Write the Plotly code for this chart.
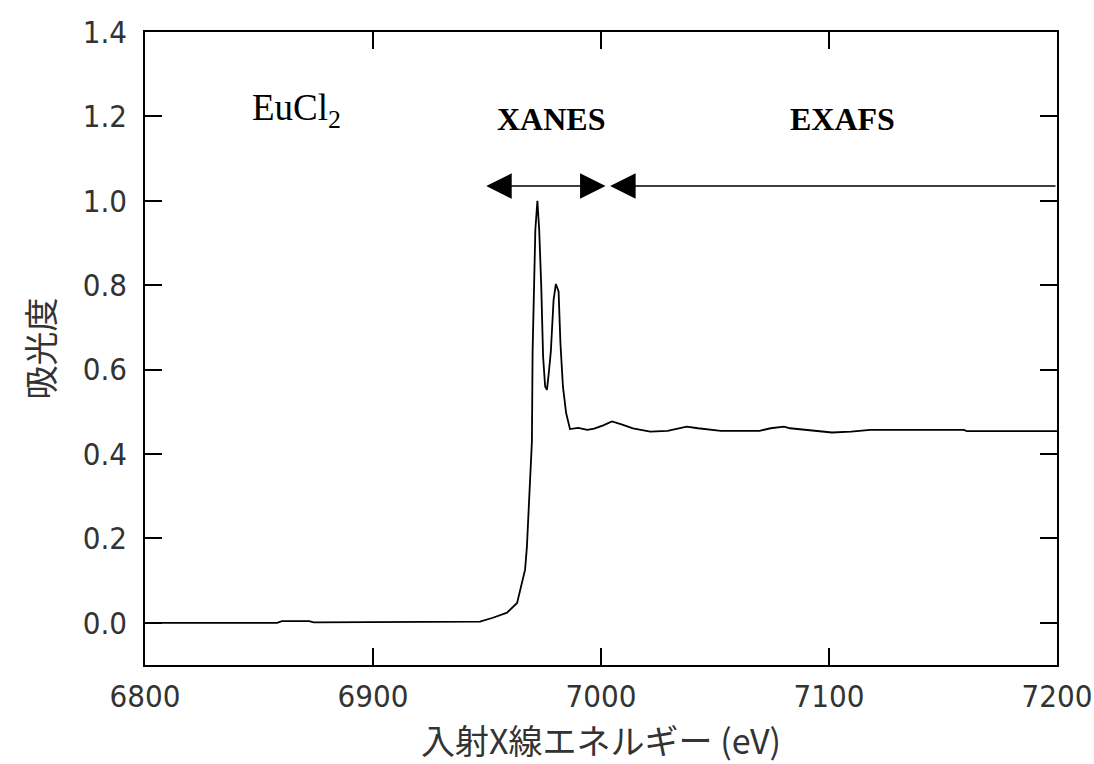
import plotly.graph_objects as go

# Data
energy_ev = [6800, 6830, 6858, 6860, 6872, 6874, 6900, 6930, 6946.9, 6952.6, 6958.8,
             6963.2, 6965.4, 6966.7, 6967.5, 6968.0, 6968.9, 6969.7, 6970.0, 6971.2,
             6972.1, 6972.9, 6973.8, 6974.6, 6975.5, 6976.3, 6977.1, 6978.0, 6979.2,
             6980.2, 6981.4, 6982.2, 6983.3, 6984.7, 6986.4, 6990, 6994, 6997, 7001,
             7004.8, 7009, 7014, 7021.6, 7029.2, 7037.6, 7042.5, 7052.6, 7069.5, 7074.4,
             7080.3, 7082.9, 7093, 7101.3, 7109.7, 7118.1, 7159.2, 7160.5, 7200]
absorbance = [0.0, 0.0, 0.0, 0.004, 0.004, 0.001, 0.002, 0.002, 0.003, 0.012, 0.024,
              0.047, 0.095, 0.126, 0.18, 0.237, 0.33, 0.43, 0.643, 0.931,
              1.0, 0.931, 0.797, 0.631, 0.56, 0.552, 0.592, 0.643, 0.765,
              0.803, 0.785, 0.663, 0.56, 0.497, 0.459, 0.462, 0.457, 0.46, 0.468,
              0.477, 0.47, 0.461, 0.453, 0.455, 0.465, 0.461, 0.455, 0.455, 0.461,
              0.465, 0.461, 0.455, 0.451, 0.453, 0.457, 0.457, 0.454, 0.454]

y_ticks = [0.0, 0.2, 0.4, 0.6, 0.8, 1.0, 1.2, 1.4]
x_ticks = [6800, 6900, 7000, 7100, 7200]

xanes_range = [6949, 7002]
exafs_range = [7004, 7200]
arrow_level = 1.035

sample_label = "EuCl<sub>2</sub>"
region_labels = ["XANES", "EXAFS"]
region_label_x = [6978, 7106]
label_y = 1.195

tick_font = dict(family="Liberation Sans Narrow, DejaVu Sans Condensed, Roboto, sans-serif", size=31, color="#333")
jp_font = dict(family="Noto Sans CJK JP, sans-serif", size=34, color="#333")
serif = "Liberation Serif, Times New Roman, serif"

fig = go.Figure()
fig.add_trace(go.Scatter(x=energy_ev, y=absorbance, mode="lines",
                         line=dict(color="black", width=1.8), showlegend=False))

axis_common = dict(showline=True, linecolor="black", linewidth=1.6, mirror="ticks",
                   ticks="inside", ticklen=17, tickwidth=1.6, tickcolor="black",
                   showgrid=False, zeroline=False, tickfont=tick_font,
                   ticklabeloverflow="allow")

fig.update_xaxes(range=[6800, 7200.0001], tickvals=x_ticks, ticklabelstandoff=3,
                 title=dict(text="入射X線エネルギー (eV)", font=jp_font, standoff=20),
                 **axis_common)
fig.update_yaxes(range=[-0.1, 1.4], tickvals=y_ticks, tickformat=".1f",
                 ticklabelstandoff=10,
                 title=dict(text="吸光度", font=jp_font, standoff=18),
                 **axis_common)

# Arrows
fig.add_annotation(x=xanes_range[1], y=arrow_level, ax=xanes_range[0], ay=arrow_level,
                   xref="x", yref="y", axref="x", ayref="y", text="", showarrow=True,
                   arrowhead=2, startarrowhead=2, arrowside="end+start",
                   arrowsize=3.4, startarrowsize=3.4, arrowwidth=1.5, arrowcolor="black")
fig.add_annotation(x=exafs_range[0], y=arrow_level, ax=exafs_range[1], ay=arrow_level,
                   xref="x", yref="y", axref="x", ayref="y", text="", showarrow=True,
                   arrowhead=2, arrowside="end",
                   arrowsize=3.4, arrowwidth=1.5, arrowcolor="black")

for lx, lt in zip(region_label_x, region_labels):
    fig.add_annotation(x=lx, y=label_y, text=f"<b>{lt}</b>", showarrow=False,
                       font=dict(family=serif, size=32, color="black"),
                       xanchor="center", yanchor="middle")

fig.add_annotation(x=6846, y=1.215, text=sample_label, showarrow=False,
                   font=dict(family=serif, size=37, color="black"),
                   xanchor="left", yanchor="middle")

fig.update_layout(width=1094, height=764, paper_bgcolor="white", plot_bgcolor="white",
                  margin=dict(l=145, r=37, t=32, b=99, autoexpand=False))

fig.write_html("out.html")
